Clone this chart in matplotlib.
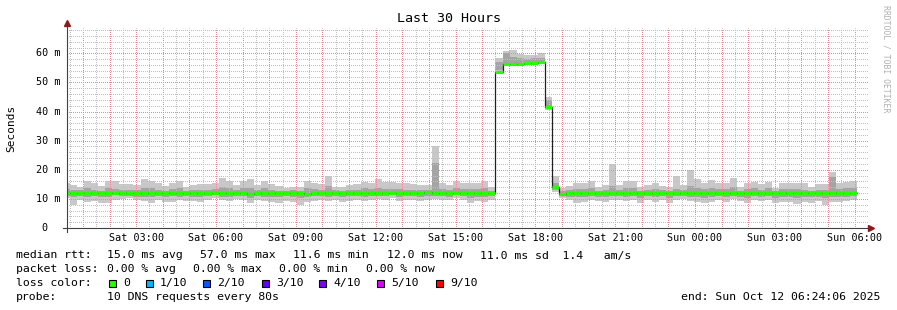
import matplotlib
matplotlib.use("Agg")
import matplotlib.pyplot as plt
from matplotlib.patches import Rectangle
import numpy as np

# ---- data (hours after Sat 00:00, values in ms) ----
view_start = 0.4017          # Sat 00:24:06
view_end = 30.4017           # Sun 06:24:06
bin_start = 0.2333
bin_hours = 16 / 60.

median = [12.1, 12.0, 11.9, 12.0, 12.0, 11.9, 12.0, 12.1, 12.0, 11.9,
          12.0, 12.0, 12.1, 11.9, 12.0, 12.0, 12.0, 11.9, 12.0, 12.0,
          12.1, 12.0, 12.0, 11.9, 12.0, 12.0, 11.8, 12.0, 12.0, 12.1,
          11.9, 12.0, 12.0, 12.0, 11.8, 12.0, 12.1, 12.0, 11.9, 12.0,
          12.0, 12.0, 11.9, 12.0, 12.0, 12.1, 12.0, 11.9, 12.0, 12.0,
          12.0, 12.2, 12.0, 12.0, 11.9, 12.0, 12.1, 12.0, 12.0, 11.9,
          12.0, 53.7, 56.2, 56.2, 56.5, 56.8, 56.8, 57.1, 41.7, 14.2,
          11.8, 11.9, 12.0, 12.0, 11.9, 12.0, 12.0, 12.1, 11.9, 12.0,
          12.0, 11.9, 12.0, 12.0, 12.1, 12.0, 11.9, 12.0, 12.0, 12.0,
          12.1, 12.0, 11.9, 12.0, 12.0, 12.0, 11.9, 12.0, 12.0, 12.1,
          12.0, 11.9, 12.0, 12.0, 12.0, 11.9, 12.0, 12.0, 12.0, 12.0,
          12.1, 12.0]
smoke_lo = [10.2, 7.9, 9.6, 9.0, 9.4, 8.5, 8.7, 9.6, 9.8, 10.2,
            9.6, 9.3, 8.7, 9.6, 9.0, 9.0, 9.6, 9.4, 9.3, 8.9,
            9.6, 10.2, 9.6, 9.2, 9.85, 9.6, 8.7, 9.6, 9.3, 9.0,
            8.5, 9.3, 9.0, 7.9, 9.0, 9.4, 9.6, 9.3, 9.6, 8.8,
            9.4, 9.6, 9.3, 9.6, 9.8, 9.6, 10.2, 9.3, 9.6, 9.6,
            9.3, 9.6, 9.85, 9.6, 9.6, 10.2, 9.6, 8.7, 9.3, 9.0,
            9.6, 53.5, 55.8, 55.8, 56.1, 56.4, 56.4, 56.7, 40.6, 12.3,
            10.2, 9.6, 8.5, 9.0, 9.6, 9.3, 9.0, 9.6, 9.6, 9.3,
            9.6, 8.5, 9.6, 8.8, 9.6, 8.5, 9.6, 9.85, 9.3, 9.0,
            8.5, 8.8, 9.6, 9.0, 9.85, 9.3, 8.5, 9.6, 9.3, 9.6,
            8.5, 9.0, 9.0, 8.3, 9.0, 8.5, 9.3, 7.9, 9.0, 8.8,
            9.3, 9.6]
smoke_hi = [15.3, 14.8, 14.2, 16.2, 15.3, 14.4, 16.2, 16.0, 15.1, 15.1,
            14.8, 16.8, 16.2, 15.3, 14.4, 15.6, 16.3, 14.2, 14.8, 15.1,
            15.1, 15.3, 17.2, 16.2, 14.8, 16.2, 16.8, 14.8, 16.2, 15.1,
            14.4, 13.8, 14.2, 14.0, 16.2, 15.6, 15.1, 18.0, 14.2, 14.2,
            14.8, 15.1, 15.9, 15.6, 16.8, 15.9, 15.9, 15.3, 15.3, 15.1,
            14.6, 14.8, 28.2, 15.6, 14.8, 16.0, 15.6, 15.6, 15.6, 16.0,
            14.2, 58.3, 60.9, 61.1, 59.8, 59.5, 59.3, 60.0, 45.1, 18.0,
            13.6, 14.4, 15.6, 15.6, 16.2, 14.2, 14.8, 22.0, 14.8, 16.2,
            16.2, 14.2, 14.8, 15.3, 14.5, 14.2, 18.0, 14.8, 19.9, 16.8,
            15.3, 16.5, 15.6, 15.6, 17.3, 14.2, 15.6, 15.9, 15.0, 15.9,
            13.6, 15.6, 15.6, 15.6, 15.3, 14.2, 15.0, 15.0, 19.3, 15.6,
            15.9, 16.2]
mid_lo = [10.9, 10.6, 11.0, 10.7, 11.1, 10.5, 10.8, 11.2, 10.9, 11.0,
          10.8, 10.6, 10.7, 11.1, 10.6, 10.9, 10.8, 11.0, 10.7, 10.5,
          11.0, 11.2, 10.8, 10.6, 11.0, 10.9, 10.4, 11.1, 10.7, 10.8,
          10.5, 10.9, 10.7, 10.4, 10.8, 11.0, 11.1, 10.8, 11.0, 10.5,
          10.9, 11.0, 10.7, 11.1, 11.0, 10.9, 11.2, 10.6, 11.0, 10.9,
          10.8, 11.0, 11.0, 10.9, 10.7, 11.2, 10.9, 10.4, 10.8, 10.6,
          11.0, 54.2, 56.4, 56.4, 56.7, 57.0, 57.0, 57.3, 41.8, 13.0,
          10.9, 10.6, 10.5, 10.7, 11.0, 10.8, 10.6, 11.0, 11.0, 10.7,
          10.9, 10.3, 11.0, 10.6, 11.0, 10.2, 10.9, 11.1, 10.8, 10.6,
          10.4, 10.5, 10.9, 10.7, 11.1, 10.6, 10.4, 11.0, 10.8, 10.9,
          10.4, 10.7, 10.8, 10.3, 10.7, 10.5, 10.8, 10.2, 10.6, 10.5,
          10.8, 11.0]
mid_hi = [13.4, 13.0, 12.9, 13.8, 13.2, 12.8, 13.6, 13.5, 13.0, 13.1,
          12.9, 13.9, 13.6, 13.2, 12.8, 13.4, 13.7, 12.8, 13.0, 13.2,
          13.1, 13.3, 14.1, 13.6, 13.0, 13.7, 13.9, 12.9, 13.6, 13.2,
          12.8, 12.7, 12.9, 12.8, 13.7, 13.4, 13.1, 14.4, 12.9, 12.8,
          13.0, 13.2, 13.6, 13.4, 13.9, 13.5, 13.4, 13.3, 13.2, 13.1,
          12.9, 13.0, 22.4, 13.5, 13.0, 13.6, 13.4, 13.5, 13.4, 13.6,
          12.8, 57.0, 60.0, 58.6, 58.5, 58.0, 58.3, 58.5, 44.0, 15.5,
          12.6, 12.9, 13.5, 13.4, 13.8, 12.8, 13.0, 14.5, 13.0, 13.7,
          13.6, 12.8, 13.0, 13.3, 12.9, 12.8, 13.5, 13.0, 14.5, 13.9,
          13.3, 13.8, 13.4, 13.4, 14.2, 12.8, 13.4, 13.6, 13.1, 13.6,
          12.6, 13.4, 13.4, 13.4, 13.2, 12.8, 13.1, 13.1, 17.5, 13.4,
          13.6, 13.8]

tick_hours = [3, 6, 9, 12, 15, 18, 21, 24, 27, 30]
tick_labels = ["Sat 03:00", "Sat 06:00", "Sat 09:00", "Sat 12:00", "Sat 15:00",
               "Sat 18:00", "Sat 21:00", "Sun 00:00", "Sun 03:00", "Sun 06:00"]
y_ticks = [0, 10, 20, 30, 40, 50, 60]
y_labels = ["0", "10 m", "20 m", "30 m", "40 m", "50 m", "60 m"]

loss_labels = ["0", "1/10", "2/10", "3/10", "4/10", "5/10", "9/10"]
loss_colors = ["#26ff00", "#00b8ff", "#0059ff", "#5e00ff", "#7e00ff", "#dd00ff", "#ff0000"]

rtt_stats = ["15.0 ms avg", "57.0 ms max", "11.6 ms min", "12.0 ms now",
             "11.0 ms sd  1.4   am/s"]
loss_stats = ["0.00 % avg", "0.00 % max", "0.00 % min", "0.00 % now"]

# ---- drawing ----
W, H = 897, 310
MONO = "DejaVu Sans Mono"
plt.rcParams["font.family"] = MONO


def fx(px):
    return px / W


def fy(py):
    return 1 - py / H


fig = plt.figure(figsize=(W / 100, H / 100), dpi=100)
ax = fig.add_axes([fx(67), fy(228), 801 / W, 200 / H])
ax.set_xlim(view_start, view_end)
ax.set_ylim(0, 68.7)

n = len(median)
edges = bin_start + bin_hours * np.arange(n + 1)
lo = np.array(smoke_lo)
hi = np.array(smoke_hi)
ml = np.array(mid_lo)
mh = np.array(mid_hi)

ax.bar(edges[:-1], hi - lo, bottom=lo, width=bin_hours, align="edge",
       color="#c8c8c8", linewidth=0, zorder=1)
ax.bar(edges[:-1], mh - ml, bottom=ml, width=bin_hours, align="edge",
       color="#a4a4a4", linewidth=0, zorder=1.1)
ax.stairs(median, edges, baseline=None, color="#202020", lw=0.9, zorder=3)
ax.hlines(median, edges[:-1], edges[1:], color=loss_colors[0], lw=2.3, zorder=3.1)

# grid (dotted, like rrdtool); minor lines skip the major positions
ax.set_xticks(np.arange(1, 31))
ax.set_xticks(np.arange(0.5, 31, 1), minor=True)
ax.set_yticks(np.arange(0, 61, 10))
ax.set_yticks([v for v in range(2, 69, 2) if v % 10], minor=True)
ax.set_xticklabels([])
ax.set_yticklabels([])
ax.set_axisbelow("line")
ax.grid(which="minor", color="#c0c0c0", ls=(0.5, (1, 1)), lw=0.72)
ax.grid(which="major", color="#e98c8c", ls=(0.5, (1, 1)), lw=0.72)
ax.tick_params(which="both", length=0)
for s in ax.spines.values():
    s.set_visible(False)

for h, lab in zip(tick_hours, tick_labels):
    ax.text(h, -10 / 200 * 68.7, lab, ha="center", va="center", fontsize=7.3)
for v, lab in zip(y_ticks, y_labels):
    xpos = (48 - 67) / 801 if lab == "0" else (60 - 67) / 801
    ax.text(xpos, v, lab, ha="right", va="center", fontsize=7.3,
            transform=ax.get_yaxis_transform())

# axes with arrows
axis_col = "#404040"
arrow_col = "#8b1a1a"
ax.plot([(63 - 67) / 801, (871 - 67) / 801], [0, 0], color=axis_col, lw=0.8,
        transform=ax.transAxes, clip_on=False, zorder=4)
ax.plot([0, 0], [(228 - 232) / 200, (228 - 23) / 200], color=axis_col, lw=0.8,
        transform=ax.transAxes, clip_on=False, zorder=4)
ax.plot([(871 - 67) / 801], [0], marker=">", ms=4, color=arrow_col,
        transform=ax.transAxes, clip_on=False, zorder=5)
ax.plot([0], [(228 - 23) / 200], marker="^", ms=4, color=arrow_col,
        transform=ax.transAxes, clip_on=False, zorder=5)

# title, labels
fig.text(fx(448.5), fy(19), "Last 30 Hours", ha="center", va="center", fontsize=9.6)
fig.text(fx(11), fy(128), "Seconds", ha="center", va="center", rotation=90, fontsize=8)
fig.text(fx(886), fy(5), "RRDTOOL / TOBI OETIKER", ha="center", va="top",
         rotation=270, fontsize=5.9, color="#b0b0b0")

# legend block
fs = 8.25
row_y = [258.5, 272, 286, 300]
fig.text(fx(16), fy(row_y[0]), "median rtt:", fontsize=fs, va="baseline")
for xp, s in zip([107, 200, 293, 387, 480], rtt_stats):
    fig.text(fx(xp), fy(row_y[0]), s, fontsize=fs, va="baseline")
fig.text(fx(16), fy(row_y[1]), "packet loss:", fontsize=fs, va="baseline")
for xp, s in zip([107, 193, 279, 366], loss_stats):
    fig.text(fx(xp), fy(row_y[1]), s, fontsize=fs, va="baseline")
fig.text(fx(16), fy(row_y[2]), "loss color:", fontsize=fs, va="baseline")
sq_x = [109, 146, 203, 262, 319, 377, 436]
for xp, col, lab in zip(sq_x, loss_colors, loss_labels):
    fig.add_artist(Rectangle((fx(xp), fy(286.5)), 7 / W, 7 / H, facecolor=col,
                             edgecolor="black", lw=0.8, transform=fig.transFigure))
    fig.text(fx(xp + 14), fy(row_y[2]), lab, fontsize=fs, va="baseline")
fig.text(fx(16), fy(row_y[3]), "probe:", fontsize=fs, va="baseline")
fig.text(fx(107), fy(row_y[3]), "10 DNS requests every 80s", fontsize=fs, va="baseline")
fig.text(fx(880), fy(row_y[3]), "end: Sun Oct 12 06:24:06 2025", fontsize=fs,
         va="baseline", ha="right")

fig.savefig("out.png", dpi=100, facecolor="white")
